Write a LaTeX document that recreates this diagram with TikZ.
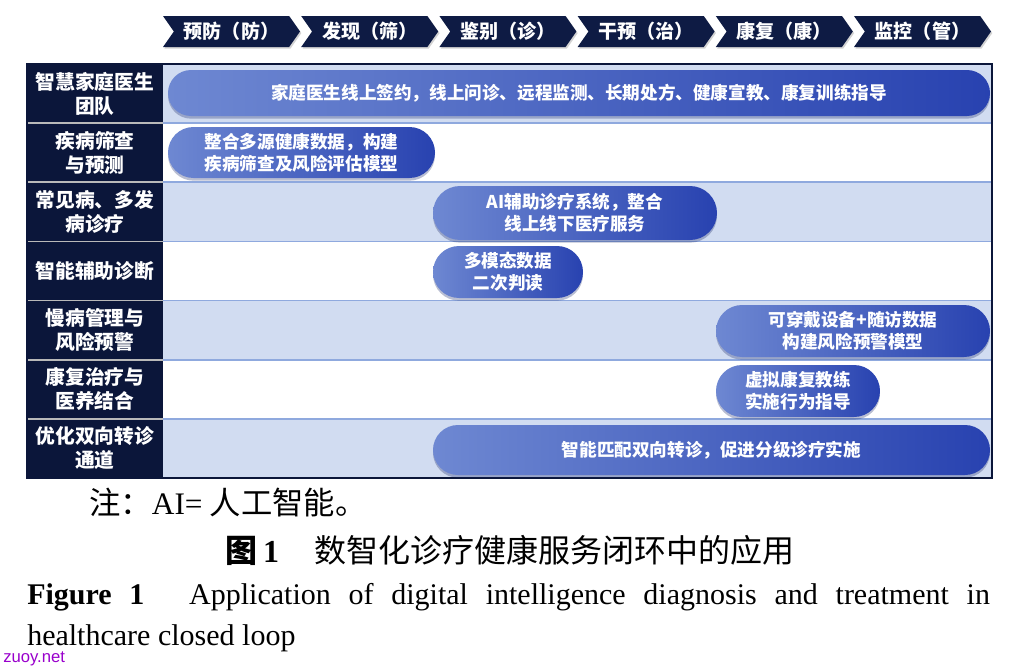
\documentclass[tikz,border=0pt]{standalone}
\usepackage{fontspec}
\setmainfont{Liberation Serif}
\newfontfamily\cjk{Noto Sans CJK SC}
\newfontfamily\wmfont{Liberation Sans}
\usetikzlibrary{shapes.symbols,shapes.misc,shadows}
\definecolor{navy}{RGB}{11,22,58}
\definecolor{hdnavy}{RGB}{14,27,68}
\definecolor{rowblue}{RGB}{209,220,241}
\definecolor{rowline}{RGB}{143,169,222}
\definecolor{pillL}{RGB}{110,136,210}
\definecolor{pillR}{RGB}{40,66,176}
\definecolor{wmpurple}{RGB}{153,0,204}

\begin{document}
\begin{tikzpicture}[x=0.75pt,y=0.75pt,yscale=-1,xscale=1,
  stage/.style={signal, signal to=east, signal from=west, signal pointer angle=110,
    fill=hdnavy, draw=none, minimum height=23.25pt, minimum width=102.75pt, inner sep=0pt,
    text=white, font=\cjk\bfseries\fontsize{14.3}{16}\selectfont,
    drop shadow={shadow xshift=1pt, shadow yshift=-1.2pt, opacity=0.35}},
  rowlabel/.style={text=white, align=center, inner sep=0pt,
    font=\cjk\bfseries\fontsize{14.8}{18}\selectfont},
  pill/.style={rounded rectangle, left color=pillL, right color=pillR, draw=none,
    text=white, align=center, inner sep=0pt,
    font=\cjk\bfseries\fontsize{13.2}{16.5}\selectfont,
    drop shadow={shadow xshift=0pt, shadow yshift=-2pt, opacity=0.3, fill=pillR!60!black}}]
\useasboundingbox (0,0) rectangle (1026,671);

\foreach \txt [count=\i from 0] in {预防（防）,发现（筛）,鉴别（诊）,干预（治）,康复（康）,监控（管）}
  \node[stage] (stage\i) at ({231.5+138.2*\i},31.5) {\txt};

\fill[navy] (27,64) rectangle (163,478);
\foreach \i in {0,2,4,6}
  \fill[rowblue] (163,{64+59.14*\i}) rectangle (992,{64+59.14*(\i+1)});
\foreach \i in {1,...,6} {
  \draw[rowline, line width=1.2pt] (163,{64+59.14*\i}) -- (992,{64+59.14*\i});
  \draw[gray!55, line width=1.2pt] (27,{64+59.14*\i}) -- (163,{64+59.14*\i});
}
\draw[navy, line width=1pt] (27,64) rectangle (992,478);

\foreach \lab [count=\i from 0] in {智慧家庭医生\\团队,疾病筛查\\与预测,常见病、多发\\病诊疗,智能辅助诊断,慢病管理与\\风险预警,康复治疗与\\医养结合,优化双向转诊\\通道}
  \node[rowlabel] (row\i) at (95,{93.6+59.14*\i}) {\lab};

\node[pill, minimum width=616.5pt, minimum height=34.5pt] (team) at (579,93) {家庭医生线上签约，线上问诊、远程监测、长期处方、健康宣教、康复训练指导};
\node[pill, minimum width=200.25pt, minimum height=38.25pt] (screen) at (301.5,152.5) {整合多源健康数据，构建\\疾病筛查及风险评估模型};
\node[pill, minimum width=213pt, minimum height=40.5pt] (treat) at (575,213) {AI辅助诊疗系统，整合\\线上线下医疗服务};
\node[pill, minimum width=112.5pt, minimum height=39pt] (diag) at (508,272) {多模态数据\\二次判读};
\node[pill, minimum width=205.5pt, minimum height=39pt] (chronic) at (853,331) {可穿戴设备+随访数据\\构建风险预警模型};
\node[pill, minimum width=123pt, minimum height=39pt] (rehab) at (798,391) {虚拟康复教练\\实施行为指导};
\node[pill, minimum width=417.75pt, minimum height=37.5pt] (refer) at (711.5,450) {智能匹配双向转诊，促进分级诊疗实施};

\node[anchor=west, inner sep=0pt, font=\cjk\fontsize{23.5}{26}\selectfont] (note) at (89,503) {注：{\rmfamily AI=} 人工智能。};
\node[inner sep=0pt, font=\fontsize{24}{27}\selectfont] (cntitle) at (510,550) {{\cjk\bfseries 图}\,\textbf{1}\hspace{1.1em}{\cjk 数智化诊疗健康服务闭环中的应用}};
\node[anchor=west, inner sep=0pt, font=\fontsize{22.5}{26}\selectfont] (entitle) at (27,597) {\makebox[722pt][s]{\textbf{Figure 1}\hspace{0.9em} Application of digital intelligence diagnosis and treatment in}};
\node[anchor=west, inner sep=0pt, font=\fontsize{22.5}{26}\selectfont] (entitle2) at (27,638) {healthcare closed loop};
\node[anchor=west, inner sep=0pt, text=wmpurple, font=\wmfont\fontsize{12.5}{14}\selectfont] (wmark) at (3,659) {zuoy.net};
\end{tikzpicture}
\end{document}
